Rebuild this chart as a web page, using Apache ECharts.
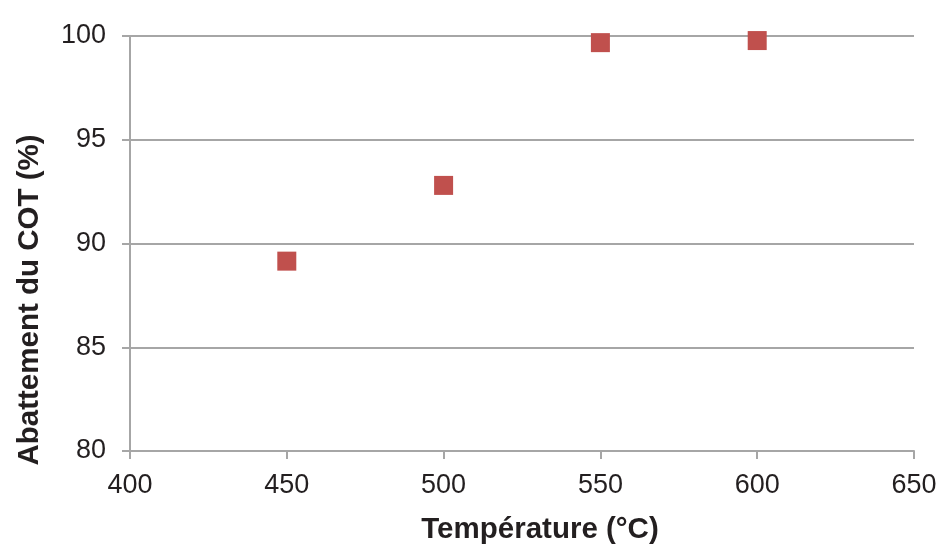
<!DOCTYPE html>
<html>
<head>
<meta charset="utf-8">
<script src="https://cdn.jsdelivr.net/npm/echarts@6/dist/echarts.min.js"></script>
<style>html,body{margin:0;padding:0;background:#fff}#c{width:941px;height:545px}</style>
</head>
<body>
<div id="c"></div>
<script>
var temperatures = [450, 500, 550, 600];
var abattement = [89.15, 92.8, 99.68, 99.78];
var xTitle = 'Température (°C)';
var yTitle = 'Abattement du COT (%)';
var xMin = 400, xMax = 650, xStep = 50;
var yMin = 80, yMax = 100, yStep = 5;

var chart = echarts.init(document.getElementById('c'), null, {renderer: 'canvas'});
var axisColor = '#a6a6a6';
var textColor = '#231f20';
var font = 'Liberation Sans, Arial, sans-serif';

chart.setOption({
  animation: false,
  backgroundColor: '#ffffff',
  grid: {left: 130, right: 27, top: 36, bottom: 94, containLabel: false},
  xAxis: {
    type: 'value', min: xMin, max: xMax, interval: xStep,
    axisLine: {show: true, lineStyle: {color: axisColor, width: 2}},
    axisTick: {show: true, inside: false, length: 8, lineStyle: {color: axisColor, width: 2}},
    axisLabel: {color: textColor, fontSize: 27, fontFamily: font, margin: 21},
    splitLine: {show: false}
  },
  yAxis: {
    type: 'value', min: yMin, max: yMax, interval: yStep,
    axisLine: {show: true, lineStyle: {color: axisColor, width: 2}},
    axisTick: {show: true, inside: false, length: 8, lineStyle: {color: axisColor, width: 2}},
    axisLabel: {color: textColor, fontSize: 27, fontFamily: font, margin: 24},
    splitLine: {show: true, lineStyle: {color: axisColor, width: 2}}
  },
  series: [{
    type: 'scatter',
    symbol: 'rect',
    symbolSize: 19,
    itemStyle: {color: '#c0504d', opacity: 1},
    data: temperatures.map(function (t, i) { return [t, abattement[i]]; })
  }]
});

var top = chart.convertToPixel({gridIndex: 0}, [xMin, yMax]);
var bottom = chart.convertToPixel({gridIndex: 0}, [xMin, yMin]);
var right = chart.convertToPixel({gridIndex: 0}, [xMax, yMin]);
chart.setOption({
  graphic: [
    {type: 'line', shape: {x1: top[0], y1: top[1] - 20, x2: top[0], y2: top[1]},
     style: {stroke: axisColor, lineWidth: 2}},
    {type: 'text', x: (bottom[0] + right[0]) / 2 + 18, y: bottom[1] + 79,
     style: {text: xTitle, font: 'bold 29.5px ' + font, fill: textColor, textAlign: 'center', textVerticalAlign: 'middle'}},
    {type: 'text', x: 30, y: 300, rotation: Math.PI / 2,
     style: {text: yTitle, font: 'bold 29.5px ' + font, fill: textColor, textAlign: 'center', textVerticalAlign: 'middle'}}
  ]
});
</script>
</body>
</html>
